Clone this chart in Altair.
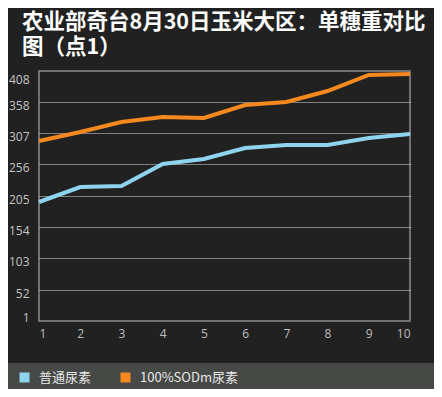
import altair as alt
import pandas as pd

points = [1, 2, 3, 4, 5, 6, 7, 8, 9, 10]
series_names = ["普通尿素", "100%SODm尿素"]
normal_urea = [195, 219, 221, 256, 265, 283, 288, 288, 299, 306]
sodm_urea = [294, 309, 325, 333, 332, 353, 357, 376, 402, 403]
y_ticks = [1, 52, 103, 154, 205, 256, 307, 358, 408]
colors = ["#8fd4ee", "#f5891f"]
title_lines = ["农业部奇台8月30日玉米大区：单穗重对比", "图（点1）"]

rows = []
for name, vals in zip(series_names, [normal_urea, sodm_urea]):
    for p, v in zip(points, vals):
        rows.append({"点": p, "值": v, "系列": name})
df = pd.DataFrame(rows)

band = alt.Chart(pd.DataFrame({"b": [0]})).mark_rect(color="#464946").encode(
    x=alt.value(-31), x2=alt.value(395), y=alt.value(292), y2=alt.value(330)
)

lines = alt.Chart(df).mark_line(strokeWidth=4).encode(
    x=alt.X("点:Q", scale=alt.Scale(domain=[1, 10], nice=False, zero=False),
            axis=alt.Axis(values=points, title=None, grid=False, ticks=False, domain=False,
                          labelFlush=True, labelPadding=7, labelColor="#bdbdbd",
                          labelFontSize=12, labelFont="Open Sans")),
    y=alt.Y("值:Q", scale=alt.Scale(domain=[1, 408], nice=False, zero=False, round=True),
            axis=alt.Axis(values=y_ticks, title=None, ticks=False, domain=False,
                          labelFlush=True, labelOffset=3, labelPadding=10,
                          labelColor="#c4c4c4", labelFontSize=12, labelFont="Open Sans",
                          grid=True, gridColor="#e0e0e0", gridDash=[1, 1], gridWidth=1,
                          gridOpacity=alt.condition("datum.value <= 1 || datum.value >= 408",
                                                    alt.value(0), alt.value(1)))),
    color=alt.Color("系列:N", scale=alt.Scale(domain=series_names, range=colors),
                    sort=series_names,
                    legend=alt.Legend(orient="none", legendX=-21, legendY=300, direction="horizontal",
                                      title=None, symbolType="square", symbolSize=25,
                                      symbolStrokeWidth=5, symbolOffset=0, labelOffset=8,
                                      labelFontSize=13, labelColor="#e8e8e8",
                                      labelFont="Noto Sans CJK SC", columnPadding=21, padding=0)),
)

chart = alt.layer(band, lines).properties(
    width=371,
    height=250,
    padding={"left": 31, "top": 63, "right": 24, "bottom": 68},
    autosize=alt.AutoSizeParams(type="none"),
    background="#212121",
    title=alt.Title(text=title_lines, anchor="start", frame="group", dx=-17, offset=8, fontSize=21.5,
                    fontWeight="bold", font="Noto Sans CJK SC", color="#ffffff", lineHeight=25),
).configure_view(stroke="#8c8c8c", strokeWidth=1.5)

chart.save("out.html", embed_options={"renderer": "svg", "actions": False})
